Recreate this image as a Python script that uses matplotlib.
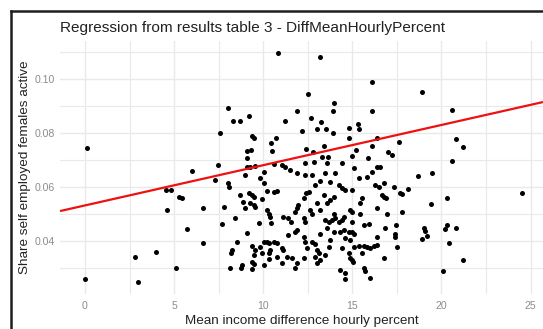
import matplotlib
matplotlib.use("Agg")
import matplotlib.pyplot as plt
from matplotlib.lines import Line2D
import numpy as np

plt.rcParams['font.family'] = ['Liberation Sans', 'DejaVu Sans']

title = "Regression from results table 3 - DiffMeanHourlyPercent"
x_label = "Mean income difference hourly percent"
y_label = "Share self employed females active"

x_ticks = [0, 5, 10, 15, 20, 25]
y_ticks = [0.04, 0.06, 0.08, 0.10]
y_tick_labels = ["0.04", "0.06", "0.08", "0.10"]

# (mean income difference hourly %, share self employed females active)
pts_left = [(0.1, .0744), (0.0, .0259), (6.0, .0659), (4.55, .0589), (4.8, .0589),
            (5.3, .0563), (5.45, .0559), (4.6, .0515), (5.7, .0444), (4.0, .0359),
            (2.8, .0341), (5.1, .0300), (3.0, .0248)]

pts_upper_mid = [(7.6, .0800), (8.0, .0893), (8.3, .0844), (8.7, .0844), (9.2, .0863),
                 (9.4, .0789), (9.5, .0781), (9.1, .0733), (9.3, .0737), (9.1, .0707),
                 (10.45, .0763), (10.7, .0781), (10.5, .0733), (10.85, .1096),
                 (11.2, .0844), (11.9, .0881)]

pts_lower_mid = [(7.49, .0681), (7.30, .0628), (9.08, .0675), (9.27, .0673), (9.55, .0678),
                 (8.99, .0644), (10.02, .0657), (10.58, .0685), (11.05, .0681), (11.24, .0675),
                 (11.48, .0665), (11.89, .0651), (8.05, .0614), (8.11, .0601), (9.83, .0632),
                 (10.02, .0614), (10.20, .0586), (10.58, .0583), (10.80, .0586), (8.71, .0570),
                 (9.23, .0577), (9.36, .0570), (9.49, .0564), (9.92, .0554), (8.89, .0546),
                 (8.99, .0521), (9.27, .0540), (9.46, .0533), (9.55, .0527), (6.65, .0521),
                 (7.81, .0527), (10.20, .0515), (10.30, .0502), (10.39, .0490), (11.14, .0488),
                 (11.42, .0484), (11.55, .0472), (11.80, .0509), (11.89, .0521), (11.98, .0533),
                 (8.43, .0484), (9.74, .0468), (10.43, .0468), (7.68, .0463), (11.89, .0441),
                 (11.80, .0435), (9.12, .0431), (11.37, .0422), (6.65, .0394), (8.52, .0398),
                 (8.24, .0367), (8.18, .0357), (9.36, .0381), (9.55, .0367), (9.46, .0348),
                 (9.83, .0377), (10.02, .0398), (10.20, .0398), (10.30, .0394), (10.58, .0398),
                 (10.77, .0394), (10.39, .0367), (10.30, .0354), (9.92, .0354), (11.05, .0373),
                 (11.14, .0367), (10.77, .0342), (10.30, .0332), (9.36, .0323), (9.46, .0315),
                 (8.80, .0311), (8.74, .0299), (8.15, .0302), (9.36, .0295), (10.02, .0311),
                 (11.33, .0342), (11.61, .0336), (11.89, .0317), (11.80, .0302), (11.05, .0317)]

pts_upper_centre = [(13.2, .1081), (12.5, .0944), (16.1, .0989), (14.0, .0911), (13.9, .0881),
                    (16.1, .0881), (12.7, .0856), (13.25, .0841), (12.2, .0807), (13.0, .0815),
                    (13.5, .0815), (13.9, .0800), (14.8, .0819), (15.3, .0833), (15.35, .0815),
                    (14.8, .0781), (16.4, .0781), (13.4, .0752), (12.4, .0741), (12.8, .0730),
                    (15.2, .0737), (16.1, .0752), (15.0, .0715), (17.0, .0730), (17.25, .0719),
                    (17.6, .0767), (15.9, .0707), (13.3, .0711), (13.65, .0711)]

pts_lower_centre = [(12.36, .0688), (12.83, .0694), (13.58, .0688), (14.42, .0688), (15.08, .0669),
                    (16.39, .0675), (16.57, .0673), (16.11, .0657), (15.83, .0638), (15.36, .0632),
                    (12.36, .0644), (12.74, .0644), (13.48, .0651), (14.05, .0651), (13.77, .0620),
                    (12.92, .0607), (13.20, .0623), (14.23, .0607), (14.42, .0595), (14.61, .0589),
                    (14.98, .0589), (12.55, .0583), (12.42, .0577), (12.27, .0558), (13.39, .0570),
                    (13.02, .0540), (13.77, .0552), (13.95, .0564), (13.58, .0540), (16.29, .0607),
                    (16.48, .0599), (16.76, .0614), (17.32, .0601), (16.67, .0570), (16.76, .0564),
                    (16.91, .0558), (17.70, .0577), (15.54, .0558), (15.45, .0540), (14.89, .0515),
                    (14.98, .0509), (16.39, .0521), (16.95, .0502), (12.64, .0515), (12.74, .0502),
                    (12.27, .0484), (12.36, .0472), (13.20, .0515), (13.95, .0502), (13.48, .0478),
                    (13.67, .0472), (13.86, .0478), (14.05, .0484), (14.23, .0472), (14.42, .0478),
                    (14.51, .0490), (14.98, .0472), (15.45, .0502), (15.64, .0459), (15.92, .0465),
                    (16.86, .0447), (13.20, .0428), (13.58, .0447), (13.95, .0435), (14.33, .0435),
                    (14.51, .0441), (14.80, .0435), (14.98, .0435), (15.08, .0426), (14.61, .0410),
                    (14.89, .0404), (13.77, .0404), (12.74, .0398), (12.92, .0391), (12.27, .0416),
                    (12.36, .0398), (16.39, .0416), (17.42, .0428), (15.08, .0379), (15.36, .0381),
                    (15.64, .0381), (15.83, .0377), (16.01, .0373), (16.20, .0381), (16.39, .0385),
                    (14.42, .0373), (13.02, .0367), (13.11, .0354), (12.92, .0342), (13.20, .0330),
                    (13.48, .0348), (13.67, .0379), (12.30, .0336), (14.80, .0354), (14.89, .0336),
                    (14.98, .0330), (15.54, .0354), (16.76, .0336), (14.33, .0293), (14.61, .0280),
                    (15.64, .0299), (14.61, .0258), (16.01, .0265), (12.45, .0373), (15.72, .0289),
                    (13.02, .0317), (15.06, .0322), (17.47, .0460), (17.42, .0415), (17.50, .0378)]

pts_right = [(18.9, .0952), (20.6, .0885), (20.8, .0778), (21.2, .0748), (20.6, .0696),
             (18.7, .0640), (19.5, .0652), (18.1, .0593), (17.8, .0574), (17.8, .0507),
             (19.4, .0537), (20.3, .0560), (24.5, .0578), (19.0, .0448), (19.1, .0437),
             (19.2, .0419), (18.9, .0407), (20.3, .0460), (20.2, .0444), (20.8, .0448),
             (20.4, .0393), (21.2, .0330), (20.1, .0289)]

# fitted linear model (lm) shown as red line
reg_intercept = 0.0532
reg_slope = 0.00149

all_pts = pts_left + pts_upper_mid + pts_lower_mid + pts_upper_centre + pts_lower_centre + pts_right
xs = np.array([p[0] for p in all_pts])
ys = np.array([p[1] for p in all_pts])

W, H = 543, 329
fig = plt.figure(figsize=(W / 100, H / 100), dpi=100)
fig.patch.set_facecolor("white")

ax_left, ax_right, ax_top, ax_bottom = 60, 543, 41, 294
ax = fig.add_axes([ax_left / W, 1 - ax_bottom / H, (ax_right - ax_left) / W, (ax_bottom - ax_top) / H])
ax.set_xlim(-1.4, 25.7)
ax.set_ylim(0.0204, 0.1141)

for s in ax.spines.values():
    s.set_visible(False)

grid_c = "#e9e9e9"
ax.set_xticks(x_ticks)
ax.set_xticks([2.5, 7.5, 12.5, 17.5, 22.5], minor=True)
ax.set_yticks(y_ticks)
ax.set_yticklabels(y_tick_labels)
ax.set_yticks([0.03, 0.05, 0.07, 0.09, 0.11], minor=True)
ax.grid(True, which="major", color=grid_c, linewidth=1.0)
ax.grid(True, which="minor", color=grid_c, linewidth=0.8)
ax.set_axisbelow(True)
ax.tick_params(which="both", length=0)
ax.tick_params(axis="x", labelsize=7.6, labelcolor="#8c8c8c", pad=5)
ax.tick_params(axis="y", labelsize=7.6, labelcolor="#8c8c8c", pad=4)

ax.scatter(xs, ys, s=13, color="black", linewidths=0, zorder=3)

xl = np.array(ax.get_xlim())
ax.plot(xl, reg_intercept + reg_slope * xl, color="#ee1111", linewidth=1.6, zorder=4,
        solid_capstyle="butt")

ax.set_xlabel(x_label, fontsize=9.7, color="#222222", labelpad=3)
ax.set_ylabel(y_label, fontsize=9.7, color="#222222", labelpad=2)

fig.text(ax_left / W, 1 - 32 / H, title, fontsize=11.1, color="#222222",
         ha="left", va="baseline")

# screenshot frame
fig.add_artist(Line2D([11 / W, 11 / W], [0, 1 - 11 / H], color="#1e1e1e", linewidth=1.8,
                      transform=fig.transFigure))
fig.add_artist(Line2D([11 / W, 1], [1 - 11 / H, 1 - 11 / H], color="#1e1e1e", linewidth=1.8,
                      transform=fig.transFigure))

fig.savefig("out.png", dpi=100)
